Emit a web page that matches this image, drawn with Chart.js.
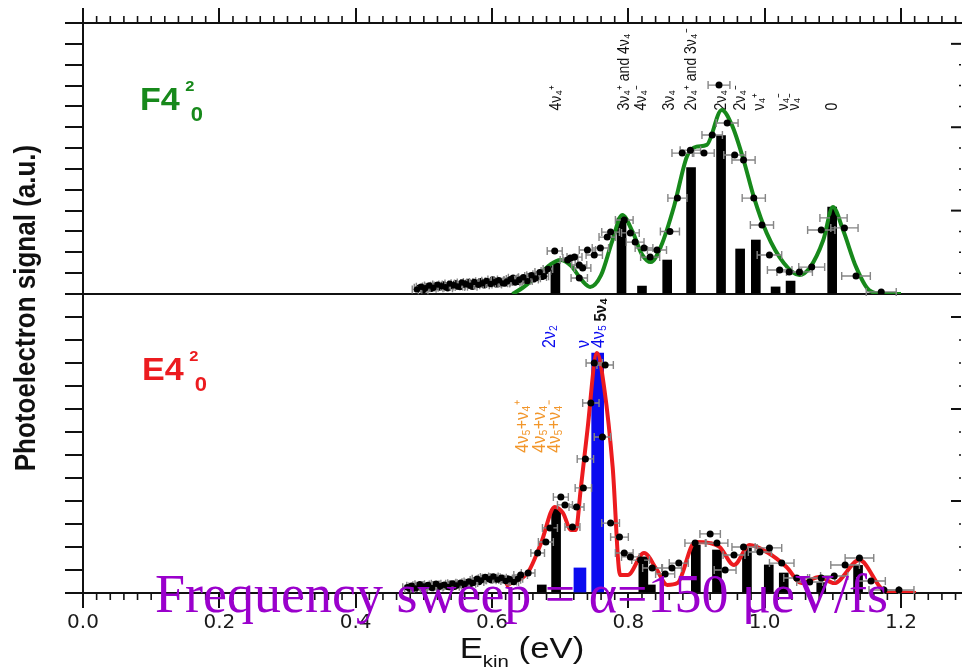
<!DOCTYPE html>
<html>
<head>
<meta charset="utf-8">
<script src="https://cdn.jsdelivr.net/npm/chart.js@4.4.1/dist/chart.umd.min.js"></script>
<style>
  html, body { margin: 0; padding: 0; background: #fff; }
  #wrap { width: 965px; height: 670px; position: relative; }
</style>
</head>
<body>
<div id="wrap"><canvas id="spectra" width="965" height="670"></canvas></div>
<script>
// axes
const xTickValues = [0, 0.2, 0.4, 0.6, 0.8, 1.0, 1.2];
const xTickLabels = ['0.0', '0.2', '0.4', '0.6', '0.8', '1.0', '1.2'];
const yTickValues = [0, 1, 2, 3, 4, 5, 6, 7, 8, 9, 10, 11, 12, 13];

// F4^2_0 panel (top)
const topBarE = [0.693, 0.790, 0.820, 0.857, 0.892, 0.936, 0.964, 0.987, 1.016, 1.038, 1.099];
const topBarH = [1.49, 3.64, 0.38, 1.63, 6.06, 7.60, 2.16, 2.59, 0.34, 0.62, 4.17];

const topCurveE = [0.630, 0.645, 0.668, 0.685, 0.700, 0.716, 0.732, 0.744, 0.760, 0.776, 0.791, 0.806, 0.820, 0.833, 0.848, 0.867, 0.886, 0.900, 0.915, 0.937, 0.952, 0.969, 0.984, 1.003, 1.028, 1.051, 1.066, 1.086, 1.100, 1.115, 1.134, 1.153, 1.175, 1.200];
const topCurveY = [0, 0.30, 0.90, 1.40, 1.63, 1.35, 0.65, 0.34, 0.90, 2.50, 3.79, 3.00, 1.90, 1.53, 2.30, 4.20, 6.60, 7.07, 7.15, 8.83, 8.10, 6.43, 4.66, 2.92, 1.49, 0.91, 1.25, 2.59, 4.17, 3.07, 1.30, 0.19, 0, 0];

const topPointE = [0.692, 0.711, 0.715, 0.721, 0.728, 0.733, 0.728, 0.740, 0.750, 0.759, 0.769, 0.774, 0.794, 0.803, 0.810, 0.823, 0.832, 0.842, 0.861, 0.872, 0.879, 0.891, 0.911, 0.923, 0.933, 0.945, 0.956, 0.969, 0.984, 0.996, 1.007, 1.022, 1.036, 1.051, 1.069, 1.083, 1.101, 1.117, 1.134, 1.171];
const topPointY = [2.06, 1.63, 1.73, 1.77, 1.39, 1.25, 0.77, 2.11, 1.87, 2.21, 2.73, 2.97, 3.55, 2.93, 2.49, 2.21, 1.77, 2.11, 3.00, 4.60, 6.76, 6.90, 6.76, 7.63, 10.02, 8.20, 6.67, 6.43, 4.60, 3.31, 1.87, 1.15, 1.06, 1.06, 1.29, 3.07, 3.65, 3.17, 0.86, 0.10];
const topPointErr = [0.011, 0.011, 0.011, 0.011, 0.011, 0.012, 0.012, 0.012, 0.012, 0.012, 0.012, 0.013, 0.013, 0.013, 0.013, 0.013, 0.014, 0.014, 0.014, 0.014, 0.015, 0.015, 0.015, 0.015, 0.016, 0.016, 0.016, 0.017, 0.017, 0.017, 0.018, 0.018, 0.018, 0.019, 0.019, 0.020, 0.020, 0.020, 0.021, 0.022];

// dense low-energy tail, two interleaved rows of points
const topNoiseE = [0.490, 0.496, 0.502, 0.508, 0.514, 0.520, 0.526, 0.532, 0.538, 0.544, 0.550, 0.556, 0.562, 0.568, 0.574, 0.580, 0.586, 0.592, 0.598, 0.604, 0.610, 0.616, 0.622, 0.628, 0.634, 0.640, 0.646, 0.652, 0.658, 0.664, 0.670, 0.676, 0.682];
const topNoiseY = [0.22, 0.35, 0.28, 0.41, 0.30, 0.45, 0.38, 0.33, 0.50, 0.42, 0.36, 0.55, 0.47, 0.40, 0.58, 0.44, 0.52, 0.63, 0.48, 0.57, 0.66, 0.51, 0.60, 0.72, 0.55, 0.68, 0.80, 0.62, 0.90, 0.75, 1.05, 0.85, 1.20];
const topNoise2E = [0.493, 0.499, 0.505, 0.511, 0.517, 0.523, 0.529, 0.535, 0.541, 0.547, 0.553, 0.559, 0.565, 0.571, 0.577, 0.583, 0.589, 0.595, 0.601, 0.607, 0.613, 0.619, 0.625, 0.631, 0.637, 0.643, 0.649, 0.655, 0.661, 0.667, 0.673, 0.679];
const topNoise2Y = [0.30, 0.18, 0.36, 0.25, 0.40, 0.31, 0.46, 0.27, 0.38, 0.52, 0.33, 0.44, 0.58, 0.35, 0.49, 0.61, 0.42, 0.54, 0.70, 0.46, 0.59, 0.50, 0.66, 0.78, 0.58, 0.73, 0.64, 0.86, 0.70, 0.95, 0.82, 1.10];

const topLabels = ['4ν₄⁺', '3ν₄⁺ and 4ν₄', '4ν₄⁻', '3ν₄', '2ν₄⁺ and 3ν₄⁻', '2ν₄', '2ν₄⁻', 'ν₄⁺', 'ν₄⁻', 'ν₄⁻', '0'];
const topLabelE = [0.695, 0.794, 0.820, 0.860, 0.893, 0.937, 0.964, 0.993, 1.027, 1.044, 1.100];
const topLabelBase = 8.8;

// E4^2_0 panel (bottom)
const botBarE = [0.673, 0.694, 0.822, 0.833, 0.899, 0.930, 0.974, 1.006, 1.028, 1.083, 1.137];
const botBarH = [0.35, 3.65, 1.57, 0.35, 2.09, 1.87, 1.96, 1.22, 0.87, 0.45, 1.20];
const botBlueE = [0.729, 0.755];
const botBlueH = [1.09, 10.43];

const botCurveE = [0.620, 0.628, 0.653, 0.672, 0.692, 0.704, 0.716, 0.723, 0.730, 0.740, 0.754, 0.765, 0.777, 0.788, 0.799, 0.823, 0.842, 0.857, 0.872, 0.898, 0.920, 0.934, 0.955, 0.978, 1.003, 1.032, 1.054, 1.080, 1.102, 1.139, 1.174, 1.193, 1.222];
const botCurveY = [0.30, 0.43, 0.91, 2.17, 3.74, 3.48, 2.74, 2.74, 4.48, 7.09, 10.43, 8.83, 5.48, 0.78, 0.78, 1.74, 1.00, 0.35, 0.43, 2.22, 2.17, 2.00, 1.22, 2.09, 1.78, 1.13, 0.43, 0.70, 0.43, 1.43, 0.13, 0.04, 0];

const botPointE = [0.642, 0.653, 0.667, 0.679, 0.685, 0.701, 0.707, 0.718, 0.724, 0.734, 0.737, 0.745, 0.750, 0.766, 0.762, 0.774, 0.787, 0.794, 0.803, 0.818, 0.835, 0.854, 0.864, 0.874, 0.898, 0.920, 0.930, 0.942, 0.955, 0.969, 0.993, 1.007, 1.025, 1.047, 1.066, 1.083, 1.102, 1.118, 1.139, 1.156, 1.175, 1.197];
const botPointY = [0.78, 0.87, 1.74, 2.22, 2.83, 4.17, 3.83, 2.87, 3.74, 4.57, 5.83, 8.26, 10.00, 9.91, 6.78, 3.04, 2.43, 1.74, 1.57, 1.43, 1.09, 0.83, 1.09, 1.30, 2.17, 2.57, 2.17, 1.00, 1.65, 2.00, 1.78, 1.96, 1.30, 0.65, 0.48, 0.65, 0.74, 1.22, 1.52, 0.52, 0.13, 0.13];
const botPointErr = [0.010, 0.010, 0.010, 0.011, 0.011, 0.011, 0.011, 0.011, 0.011, 0.012, 0.012, 0.012, 0.012, 0.012, 0.012, 0.013, 0.013, 0.013, 0.013, 0.013, 0.014, 0.014, 0.014, 0.014, 0.015, 0.015, 0.016, 0.016, 0.016, 0.017, 0.017, 0.018, 0.018, 0.019, 0.019, 0.020, 0.020, 0.021, 0.021, 0.021, 0.022, 0.022];

const botNoiseE = [0.476, 0.482, 0.488, 0.494, 0.500, 0.506, 0.512, 0.518, 0.524, 0.530, 0.536, 0.542, 0.548, 0.554, 0.560, 0.566, 0.572, 0.578, 0.584, 0.590, 0.596, 0.602, 0.608, 0.614, 0.620, 0.626, 0.632, 0.638];
const botNoiseY = [0.25, 0.32, 0.20, 0.38, 0.28, 0.35, 0.22, 0.40, 0.30, 0.36, 0.26, 0.42, 0.33, 0.45, 0.38, 0.50, 0.44, 0.62, 0.55, 0.70, 0.60, 0.72, 0.58, 0.66, 0.52, 0.60, 0.48, 0.62];
const botNoise2E = [0.479, 0.485, 0.491, 0.497, 0.503, 0.509, 0.515, 0.521, 0.527, 0.533, 0.539, 0.545, 0.551, 0.557, 0.563, 0.569, 0.575, 0.581, 0.587, 0.593, 0.599, 0.605, 0.611, 0.617, 0.623, 0.629, 0.635];
const botNoise2Y = [0.18, 0.28, 0.34, 0.22, 0.31, 0.26, 0.37, 0.24, 0.33, 0.29, 0.40, 0.27, 0.38, 0.35, 0.47, 0.40, 0.56, 0.48, 0.64, 0.66, 0.55, 0.68, 0.62, 0.57, 0.63, 0.50, 0.58];
const noiseErr = 0.007;

const botBlueLabels = ['2ν₂', 'ν', '4ν₅'];
const botBlueLabelE = [0.685, 0.735, 0.757];
const botBlueBase = 10.65;
const botBlackLabels = ['5ν₄'];
const botBlackLabelE = [0.760];
const botBlackBase = 11.8;
const botOrangeLabels = ['4ν₅+ν₄⁺', '4ν₅+ν₄', '4ν₅+ν₄⁻'];
const botOrangeLabelE = [0.645, 0.671, 0.693];
const botOrangeBase = 6.1;

const SANS = '"Liberation Sans", Arial, Helvetica, sans-serif';
const SX = 1.15; // original figure is a bit stretched sideways
const axisColor = '#111';
const green = '#17891b';
const red = '#ec1b1f';
const blue = '#0b0bef';
const orange = '#f2962a';

const pts = (xs, ys) => xs.map((x, i) => ({ x, y: ys[i] }));

function vText(ctx, text, x, y, font, color) {
    ctx.save();
    ctx.translate(x, y);
    ctx.scale(SX, 1);
    ctx.rotate(-Math.PI / 2);
    ctx.font = font;
    ctx.fillStyle = color;
    ctx.textAlign = 'left';
    ctx.textBaseline = 'middle';
    ctx.fillText(text, 0, 0);
    ctx.restore();
}

function panelLabel(ctx, x, y, main, sup, sub, color) {
    ctx.save();
    ctx.translate(x, y);
    ctx.scale(1.1, 1);
    ctx.fillStyle = color;
    ctx.textBaseline = 'alphabetic';
    ctx.textAlign = 'left';
    ctx.font = `bold 31px ${SANS}`;
    ctx.fillText(main, 0, 0);
    const w = ctx.measureText(main).width;
    ctx.font = `bold 15px ${SANS}`;
    ctx.fillText(sup, w + 5, -19);
    ctx.font = `bold 20px ${SANS}`;
    ctx.fillText(sub, w + 10, 11);
    ctx.restore();
}

const errorBars = {
    id: 'errorBars',
    beforeDatasetDraw(chart, args) {
        const ds = chart.data.datasets[args.index];
        if (!ds.errors && !ds.errorWidth) return;
        const ctx = chart.ctx;
        const xs = chart.scales.x, ys = chart.scales[ds.yAxisID];
        ctx.save();
        ctx.strokeStyle = '#858585';
        ctx.lineWidth = 1.4;
        ds.data.forEach((p, i) => {
            const e = ds.errors ? ds.errors[i] : ds.errorWidth;
            const l = xs.getPixelForValue(p.x - e);
            const r = xs.getPixelForValue(p.x + e);
            const py = ys.getPixelForValue(p.y);
            ctx.beginPath();
            ctx.moveTo(l, py); ctx.lineTo(r, py);
            ctx.moveTo(l, py - 4); ctx.lineTo(l, py + 4);
            ctx.moveTo(r, py - 4); ctx.lineTo(r, py + 4);
            ctx.stroke();
        });
        ctx.restore();
    }
};

const frame = {
    id: 'frame',
    beforeDatasetsDraw(chart) {
        const { ctx, chartArea: a, scales } = chart;
        const seg = (x1, y1, x2, y2) => { ctx.beginPath(); ctx.moveTo(x1, y1); ctx.lineTo(x2, y2); ctx.stroke(); };
        ctx.save();
        ctx.strokeStyle = axisColor;
        ctx.lineWidth = 2;
        // panel divider
        seg(a.left, scales.yT.bottom, a.right, scales.yT.bottom);
        // minor ticks on top and bottom axes, every 0.02 eV
        ctx.lineWidth = 1.6;
        for (let i = 1; i < 65; i++) {
            if (i % 10 === 0) continue;
            const px = scales.x.getPixelForValue(i * 0.02);
            seg(px, a.top, px, a.top - 7);
            seg(px, a.bottom, px, a.bottom + 7);
        }
        // right side ticks point inward
        ['yT', 'yB'].forEach(id => {
            const s = scales[id];
            yTickValues.forEach(v => {
                if (v === 0 || v === 13) return;
                const py = s.getPixelForValue(v);
                if (v % 4 === 0) { ctx.lineWidth = 2; seg(a.right - 10, py, a.right, py); }
                else { ctx.lineWidth = 1.5; seg(a.right - 2, py, a.right, py); }
            });
        });
        ctx.restore();

        topLabels.forEach((t, i) => vText(ctx, t, scales.x.getPixelForValue(topLabelE[i]), scales.yT.getPixelForValue(topLabelBase), `14px ${SANS}`, '#111'));
        botBlueLabels.forEach((t, i) => vText(ctx, t, scales.x.getPixelForValue(botBlueLabelE[i]), scales.yB.getPixelForValue(botBlueBase), `16px ${SANS}`, blue));
        botBlackLabels.forEach((t, i) => vText(ctx, t, scales.x.getPixelForValue(botBlackLabelE[i]), scales.yB.getPixelForValue(botBlackBase), `bold 15px ${SANS}`, '#111'));
        botOrangeLabels.forEach((t, i) => vText(ctx, t, scales.x.getPixelForValue(botOrangeLabelE[i]), scales.yB.getPixelForValue(botOrangeBase), `16px ${SANS}`, orange));
    },
    afterDraw(chart) {
        const { ctx, chartArea: a } = chart;
        ctx.save();
        // y title
        ctx.translate(27, (a.top + a.bottom) / 2);
        ctx.scale(SX, 1);
        ctx.rotate(-Math.PI / 2);
        ctx.font = `bold 26px ${SANS}`;
        ctx.fillStyle = '#111';
        ctx.textAlign = 'center';
        ctx.textBaseline = 'middle';
        ctx.fillText('Photoelectron signal (a.u.)', 0, 0);
        ctx.restore();

        // x title E_kin (eV)
        ctx.save();
        ctx.fillStyle = '#111';
        ctx.textBaseline = 'alphabetic';
        ctx.font = `29px ${SANS}`;
        const wE = ctx.measureText('E').width;
        const wP = ctx.measureText(' (eV)').width;
        ctx.font = `17px ${SANS}`;
        const wK = ctx.measureText('kin').width;
        const total = (wE + wK + wP) * 1.2;
        ctx.translate((a.left + a.right) / 2 - total / 2, 658);
        ctx.scale(1.2, 1);
        ctx.font = `29px ${SANS}`;
        ctx.fillText('E', 0, 0);
        ctx.font = `17px ${SANS}`;
        ctx.fillText('kin', wE, 9);
        ctx.font = `29px ${SANS}`;
        ctx.fillText(' (eV)', wE + wK, 0);
        ctx.restore();

        panelLabel(ctx, 140, 110, 'F4', '2', '0', green);
        panelLabel(ctx, 142, 380, 'E4', '2', '0', red);

        // overlay caption
        ctx.save();
        ctx.font = '54px "Liberation Serif", "Times New Roman", serif';
        ctx.fillStyle = '#9a00cc';
        ctx.textBaseline = 'alphabetic';
        ctx.fillText('Frequency sweep = α=150 μeV/fs', 155, 612);
        ctx.restore();
    }
};

function xAxis(position, labels) {
    return {
        type: 'linear', position, min: 0, max: 1.288, offset: false,
        afterBuildTicks: s => { s.ticks = xTickValues.map(v => ({ value: v })); },
        afterFit: s => { s.height = labels ? 77 : 0; },
        grid: { drawOnChartArea: false, offset: false, tickLength: 15, lineWidth: 2, color: axisColor },
        border: { width: 2, color: axisColor },
        ticks: {
            display: labels, autoSkip: false, maxRotation: 0, padding: 3,
            callback: (v, i) => xTickLabels[i],
            color: '#1a1a1a', font: { family: '"DejaVu Sans", sans-serif', size: 20 }
        }
    };
}

function yAxis(weight) {
    return {
        type: 'linear', position: 'left', stack: 'panels', stackWeight: weight, min: 0, max: 13,
        afterBuildTicks: s => { s.ticks = yTickValues.map(v => ({ value: v })); },
        afterFit: s => { s.width = 0; },
        grid: { drawOnChartArea: false, tickLength: 18, lineWidth: 2, color: axisColor },
        border: { width: 2, color: axisColor },
        ticks: { display: false }
    };
}

const noiseStyle = { type: 'line', xAxisID: 'x', errorWidth: noiseErr, showLine: false, pointRadius: 3.2, pointBackgroundColor: '#000', pointBorderWidth: 0, order: 2 };
const pointStyle = { type: 'line', xAxisID: 'x', showLine: false, pointRadius: 3.5, pointBackgroundColor: '#000', pointBorderWidth: 0, order: 1 };

new Chart(document.getElementById('spectra'), {
    type: 'scatter',
    data: {
        datasets: [
            { type: 'bar', xAxisID: 'x', yAxisID: 'yT', data: pts(topBarE, topBarH), backgroundColor: '#000', barThickness: 9, grouped: false, order: 5 },
            { type: 'bar', xAxisID: 'x', yAxisID: 'yB', data: pts(botBarE, botBarH), backgroundColor: '#000', barThickness: 9, grouped: false, order: 5 },
            { type: 'bar', xAxisID: 'x', yAxisID: 'yB', data: pts(botBlueE, botBlueH), backgroundColor: blue, barThickness: 12, grouped: false, order: 5 },
            { type: 'line', xAxisID: 'x', yAxisID: 'yT', data: pts(topCurveE, topCurveY), borderColor: green, borderWidth: 4, pointRadius: 0, cubicInterpolationMode: 'monotone', fill: false, order: 3 },
            { type: 'line', xAxisID: 'x', yAxisID: 'yB', data: pts(botCurveE, botCurveY), borderColor: red, borderWidth: 4, pointRadius: 0, cubicInterpolationMode: 'monotone', fill: false, order: 3 },
            { ...noiseStyle, yAxisID: 'yT', data: pts(topNoiseE, topNoiseY) },
            { ...noiseStyle, yAxisID: 'yT', data: pts(topNoise2E, topNoise2Y) },
            { ...noiseStyle, yAxisID: 'yB', data: pts(botNoiseE, botNoiseY) },
            { ...noiseStyle, yAxisID: 'yB', data: pts(botNoise2E, botNoise2Y) },
            { ...pointStyle, yAxisID: 'yT', data: pts(topPointE, topPointY), errors: topPointErr },
            { ...pointStyle, yAxisID: 'yB', data: pts(botPointE, botPointY), errors: botPointErr }
        ]
    },
    options: {
        responsive: false,
        animation: false,
        events: [],
        layout: { padding: { left: 83, top: 23, right: 0, bottom: 0 } },
        plugins: { legend: { display: false }, tooltip: { enabled: false } },
        scales: {
            x: xAxis('bottom', true),
            xTop: xAxis('top', false),
            yB: yAxis(299),
            yT: yAxis(271)
        }
    },
    plugins: [errorBars, frame]
});
</script>
</body>
</html>
